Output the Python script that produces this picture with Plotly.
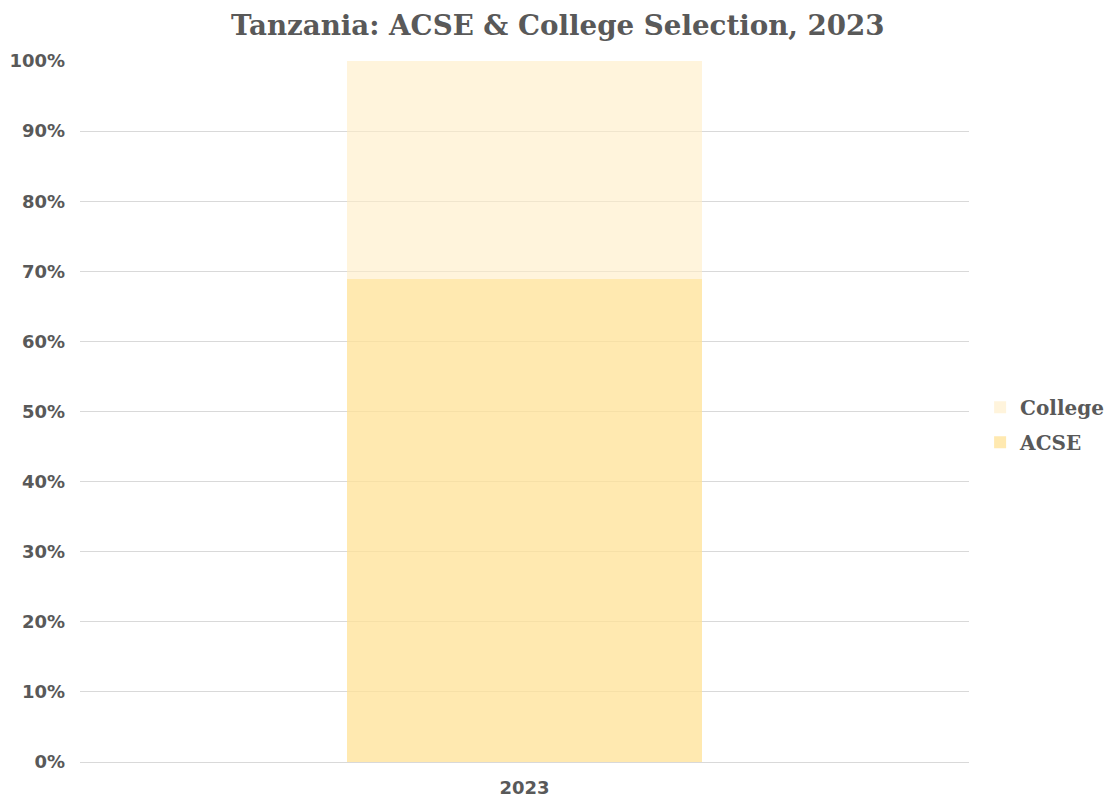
import plotly.graph_objects as go

categories = ["2023"]
acse = [68.9]
college = [31.1]
tick_vals = [0, 10, 20, 30, 40, 50, 60, 70, 80, 90, 100]
tick_text = [f"<b>{v}%</b>" for v in tick_vals]

fig = go.Figure()
fig.add_trace(go.Bar(name="<b>ACSE</b>", x=categories, y=acse, width=0.4, legendgroup="a",
                     legendrank=2,
                     marker=dict(color="rgba(255,226,150,0.75)", line=dict(width=0))))
fig.add_trace(go.Bar(name="<b>College</b>", x=categories, y=college, width=0.4, legendgroup="c",
                     legendrank=1,
                     marker=dict(color="rgba(255,236,196,0.6)", line=dict(width=0))))

fig.update_layout(
    width=1113, height=802,
    barmode="stack",
    plot_bgcolor="white", paper_bgcolor="white",
    margin=dict(l=72, r=145, t=53, b=48),
    title=dict(text="<b>Tanzania: ACSE &amp; College Selection, 2023</b>",
               x=0.494, xanchor="center", y=0.979, yanchor="middle",
               font=dict(family="DejaVu Serif", size=27.7, color="#595959")),
    legend=dict(traceorder="grouped", x=1.0125, y=0.481, xanchor="left", yanchor="middle",
                font=dict(family="DejaVu Serif", size=20, color="#595959"),
                itemwidth=30, tracegroupgap=6),
    xaxis=dict(showgrid=False, showline=True, linecolor="#D9D9D9", linewidth=1,
               tickfont=dict(family="DejaVu Sans", size=18, color="#595959"),
               ticks="", range=[-0.5, 0.5], tickvals=categories,
               ticktext=[f"<b>{c}</b>" for c in categories], automargin=False,
               ticklabelstandoff=9),
    yaxis=dict(range=[0, 100], tickvals=tick_vals, ticktext=tick_text,
               showgrid=True, gridcolor="#D9D9D9", gridwidth=1, zeroline=False,
               tickfont=dict(family="DejaVu Sans", size=18, color="#595959"),
               ticks="", ticklabelstandoff=14, automargin=False),
    font=dict(family="DejaVu Sans", color="#595959"),
)

fig.write_html("out.html")
